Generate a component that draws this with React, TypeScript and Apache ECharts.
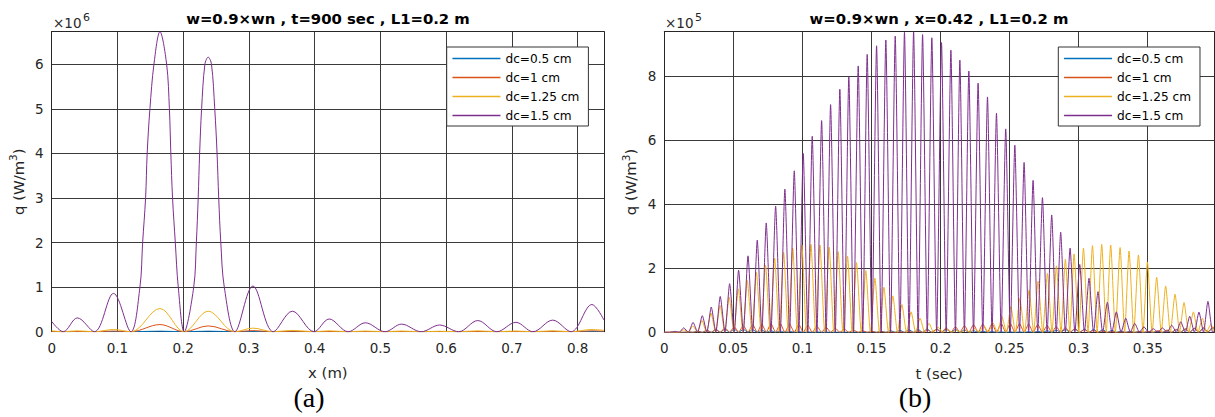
import React, { useEffect, useRef } from "react";
import * as echarts from "echarts";

// ---------------- Panel (a): q along x at t = 900 s (values in 1e6 W/m^3)
const aTroughX = [0.0176, 0.065, 0.1205, 0.2015, 0.2786, 0.337, 0.399, 0.451, 0.507, 0.562, 0.619, 0.677, 0.732, 0.79];
const aPeakX = [0.039, 0.094, 0.1646, 0.238, 0.306, 0.366, 0.422, 0.477, 0.532, 0.59, 0.648, 0.706, 0.762, 0.8216];
const aEndX = [0, 0.84];
const aPurplePeaks = [0.31, 0.86, 6.73, 6.16, 1.025, 0.46, 0.285, 0.2, 0.17, 0.15, 0.25, 0.21, 0.26, 0.61];
const aPurpleEnds = [0.23, 0.26];
const aPurpleShoulders = [
  [0.1342, 1], [0.1383, 2], [0.1428, 3], [0.1452, 4], [0.1494, 5], [0.1555, 6],
  [0.1748, 6], [0.179, 5], [0.1812, 4], [0.1838, 3], [0.188, 2], [0.1925, 1],
  [0.216, 1], [0.22, 2], [0.2228, 3], [0.225, 4], [0.228, 5], [0.233, 6],
  [0.243, 6], [0.248, 5], [0.2515, 4], [0.254, 3], [0.2572, 2], [0.2625, 1],
];
const aYellowPeaks = [0.02, 0.05, 0.52, 0.46, 0.08, 0.03, 0.02, 0.015, 0.015, 0.01, 0.02, 0.015, 0.02, 0.05];
const aYellowEnds = [0.02, 0.03];
const aOrangePeaks = [0.005, 0.015, 0.16, 0.13, 0.025, 0.01, 0.005, 0.005, 0.005, 0.005, 0.005, 0.005, 0.008, 0.02];
const aOrangeEnds = [0.005, 0.01];
const aBluePeaks = [0.002, 0.004, 0.012, 0.012, 0.004, 0.002, 0.002, 0.002, 0.002, 0.002, 0.002, 0.002, 0.002, 0.004];
const aBlueEnds = [0.002, 0.003];

// ---------------- Panel (b): q in time at x = 0.42 (values in 1e5 W/m^3)
const bEndT = [0, 0.398];
const bPeakT = [0.0075, 0.014, 0.0208, 0.0275, 0.034, 0.0405, 0.0473, 0.0538, 0.0606, 0.0673, 0.0738, 0.0806, 0.0873, 0.0941, 0.1006, 0.1071, 0.1139, 0.1204, 0.1271, 0.1336, 0.1404, 0.1469, 0.1537, 0.1604, 0.1672, 0.1739, 0.1805, 0.187, 0.1937, 0.2007, 0.2075, 0.214, 0.2205, 0.2272, 0.234, 0.2405, 0.2472, 0.2538, 0.2605, 0.267, 0.2738, 0.2805, 0.287, 0.2938, 0.3008, 0.3075, 0.314, 0.3208, 0.3273, 0.3341, 0.3406, 0.3473, 0.3541, 0.3606, 0.3674, 0.3739, 0.3804, 0.3871, 0.3936];
const bTroughT = [0.004, 0.0108, 0.0174, 0.0241, 0.0308, 0.0373, 0.0439, 0.0506, 0.0572, 0.064, 0.0706, 0.0772, 0.084, 0.0907, 0.0974, 0.1039, 0.1105, 0.1172, 0.1238, 0.1304, 0.137, 0.1437, 0.1503, 0.157, 0.1638, 0.1706, 0.1772, 0.1838, 0.1904, 0.1972, 0.2041, 0.2108, 0.2173, 0.2239, 0.2306, 0.2373, 0.2439, 0.2505, 0.2572, 0.2638, 0.2704, 0.2772, 0.2838, 0.2904, 0.2973, 0.3042, 0.3108, 0.3174, 0.3241, 0.3307, 0.3374, 0.344, 0.3507, 0.3574, 0.364, 0.3707, 0.3772, 0.3838, 0.3904, 0.397];
const bPurplePeaks = [0.03, 0.14, 0.31, 0.52, 0.79, 1.12, 1.52, 1.94, 2.39, 2.88, 3.42, 3.95, 4.48, 5.05, 5.59, 6.13, 6.62, 7.12, 7.6, 7.99, 8.33, 8.69, 8.96, 9.14, 9.26, 9.38, 9.4, 9.31, 9.21, 9.06, 8.82, 8.51, 8.17, 7.79, 7.36, 6.85, 6.36, 5.85, 5.31, 4.75, 4.21, 3.67, 3.13, 2.63, 2.12, 1.69, 1.27, 0.94, 0.64, 0.44, 0.28, 0.17, 0.11, 0.14, 0.22, 0.33, 0.5, 0.63, 0.97];
const bPurpleEnds = [0, 0.03];
const bYellowPeakT = [0.0075, 0.0141, 0.0207, 0.0272, 0.0338, 0.0404, 0.047, 0.0536, 0.0601, 0.0667, 0.0733, 0.0799, 0.0864, 0.093, 0.0996, 0.1062, 0.1127, 0.1194, 0.1259, 0.1327, 0.1392, 0.1459, 0.1525, 0.159, 0.1655, 0.172, 0.1787, 0.1852, 0.1917, 0.1983, 0.2049, 0.2115, 0.2181, 0.2247, 0.2313, 0.2379, 0.2444, 0.2509, 0.2574, 0.2641, 0.2706, 0.2774, 0.2839, 0.2904, 0.2967, 0.3035, 0.31, 0.3167, 0.3232, 0.33, 0.3365, 0.3433, 0.3498, 0.3565, 0.363, 0.3698, 0.3763, 0.3831, 0.3896, 0.3956];
const bYellowTroughT = [0.0042, 0.0108, 0.0174, 0.024, 0.0305, 0.0371, 0.0437, 0.0503, 0.0569, 0.0634, 0.07, 0.0766, 0.0832, 0.0897, 0.0963, 0.1029, 0.1095, 0.1161, 0.1227, 0.1293, 0.136, 0.1426, 0.1492, 0.1558, 0.1623, 0.1688, 0.1754, 0.182, 0.1885, 0.195, 0.2016, 0.2082, 0.2148, 0.2214, 0.228, 0.2346, 0.2412, 0.2477, 0.2542, 0.2608, 0.2674, 0.274, 0.2807, 0.2872, 0.2936, 0.3001, 0.3068, 0.3134, 0.32, 0.3266, 0.3333, 0.3399, 0.3466, 0.3532, 0.3598, 0.3664, 0.3731, 0.3797, 0.3864, 0.3926];
const bYellowPeaks = [0.01, 0.08, 0.2, 0.37, 0.6, 0.84, 1.1, 1.36, 1.62, 1.87, 2.1, 2.32, 2.5, 2.63, 2.73, 2.75, 2.73, 2.66, 2.52, 2.38, 2.18, 1.93, 1.69, 1.41, 1.14, 0.87, 0.64, 0.44, 0.28, 0.16, 0.09, 0.06, 0.07, 0.12, 0.2, 0.3, 0.49, 0.8, 1.06, 1.32, 1.6, 1.84, 2.08, 2.28, 2.45, 2.63, 2.71, 2.75, 2.73, 2.65, 2.54, 2.42, 2.2, 1.72, 1.45, 1.19, 0.93, 0.64, 0.44, 0.25];
const bYellowEnds = [0, 0.03];
const bOrangeHumps = [0, 0, 0.01, 0.03, 0.06, 0.1, 0.14, 0.18, 0.21, 0.24, 0.26, 0.27, 0.27, 0.26, 0.25, 0.22, 0.19, 0.16, 0.13, 0.1, 0.07, 0.05, 0.03, 0.02, 0.01, 0.01, 0.02, 0.04, 0.07, 0.1, 0.14, 0.18, 0.21, 0.24, 0.26, 0.27, 0.28, 0.28, 0.27, 0.26, 0.24, 0.21, 0.18, 0.15, 0.12, 0.09, 0.06, 0.04, 0.02, 0.01, 0.01, 0.02, 0.03, 0.05, 0.07, 0.09, 0.11, 0.13, 0.15, 0.16];
const bOrangeEnds = [0, 0.15];
const bBlueHumps = [0, 0, 0.01, 0.03, 0.06, 0.08, 0.1, 0.1, 0.09, 0.08, 0.07, 0.05, 0.04, 0.03, 0.02, 0.01, 0.01, 0.005, 0.005, 0.005, 0.01, 0.01, 0.02, 0.03, 0.05, 0.06, 0.08, 0.09, 0.1, 0.1, 0.1, 0.09, 0.07, 0.05, 0.03, 0.02, 0.01, 0.01, 0.01, 0.02, 0.03, 0.05, 0.07, 0.09, 0.1, 0.1, 0.09, 0.08, 0.06, 0.04, 0.03, 0.02, 0.02, 0.03, 0.05, 0.08, 0.1, 0.12, 0.13, 0.13];
const bBlueEnds = [0, 0.12];

const seriesNames = ["dc=0.5 cm", "dc=1 cm", "dc=1.25 cm", "dc=1.5 cm"];
const seriesColors = ["#0072BD", "#D95319", "#EDB120", "#7E2F8E"];

const FONT = "'DejaVu Sans', sans-serif";
const TXT = "#262626";
const GRIDC = "#3a3a3a";

const pairs = (ts: number[], vs: number[]) => ts.map((t, i) => [t, vs[i]]);
const zeroAt = (ts: number[]) => ts.map((t) => [t, 0]);
const merge = (...lists: number[][][]) => lists.flat().sort((p, q) => p[0] - q[0]);
const fmt = (v: number) => String(Number(v.toFixed(4)));

function axisX(gridIndex: number, max: number, interval: number, name: string) {
  return {
    type: "value", gridIndex, min: 0, max, interval, position: "bottom",
    name, nameLocation: "middle", nameGap: 34,
    nameTextStyle: { fontFamily: FONT, fontSize: 14.85, color: TXT },
    axisLine: { show: true, onZero: false, lineStyle: { color: TXT, width: 1 } },
    axisTick: { show: false },
    axisLabel: { fontFamily: FONT, fontSize: 13.5, color: TXT, margin: 9, showMaxLabel: false, formatter: fmt },
    splitLine: { show: true, lineStyle: { color: GRIDC, width: 1 } },
  };
}
function axisXTop(gridIndex: number, max: number) {
  return {
    type: "value", gridIndex, min: 0, max, position: "top",
    axisLine: { show: true, onZero: false, lineStyle: { color: TXT, width: 1 } },
    axisTick: { show: false }, axisLabel: { show: false }, splitLine: { show: false },
  };
}
function axisY(gridIndex: number, max: number, interval: number) {
  return {
    type: "value", gridIndex, min: 0, max, interval, position: "left",
    name: "{a|q (W/m}{s|3}{a|)}", nameLocation: "middle", nameGap: 22, nameRotate: 90,
    nameTextStyle: {
      rich: {
        a: { fontFamily: FONT, fontSize: 14.85, color: TXT, lineHeight: 22 },
        s: { fontFamily: FONT, fontSize: 10.5, color: TXT, lineHeight: 12, verticalAlign: "top" },
      },
    },
    axisLine: { show: true, onZero: false, lineStyle: { color: TXT, width: 1 } },
    axisTick: { show: false },
    axisLabel: { fontFamily: FONT, fontSize: 13.5, color: TXT, margin: 8, showMaxLabel: false, formatter: fmt },
    splitLine: { show: true, lineStyle: { color: GRIDC, width: 1 } },
  };
}
function axisYRight(gridIndex: number, max: number) {
  return {
    type: "value", gridIndex, min: 0, max, position: "right",
    axisLine: { show: true, onZero: false, lineStyle: { color: TXT, width: 1 } },
    axisTick: { show: false }, axisLabel: { show: false }, splitLine: { show: false },
  };
}
function legendAt(left: number) {
  return {
    orient: "vertical", left, top: 47, itemWidth: 48, itemHeight: 12, itemGap: 7,
    padding: [5.5, 9, 4.5, 5], borderColor: "#333", borderWidth: 1, backgroundColor: "#fff",
    selectedMode: false, textStyle: { fontFamily: FONT, fontSize: 12.15, color: "#000" },
    lineStyle: { width: 1.5 }, data: seriesNames,
  };
}

export default function App() {
  const ref = useRef<HTMLDivElement>(null);
  useEffect(() => {
    if (!ref.current) return;
    const chart = echarts.init(ref.current, undefined, { renderer: "svg" });

    const aData = [
      merge(pairs(aEndX, aBlueEnds), zeroAt(aTroughX), pairs(aPeakX, aBluePeaks)),
      merge(pairs(aEndX, aOrangeEnds), zeroAt(aTroughX), pairs(aPeakX, aOrangePeaks)),
      merge(pairs(aEndX, aYellowEnds), zeroAt(aTroughX), pairs(aPeakX, aYellowPeaks)),
      merge(pairs(aEndX, aPurpleEnds), zeroAt(aTroughX), pairs(aPeakX, aPurplePeaks), aPurpleShoulders),
    ];
    const bData = [
      merge(pairs(bEndT, bBlueEnds), pairs(bTroughT, bBlueHumps), zeroAt(bPeakT)),
      merge(pairs(bEndT, bOrangeEnds), pairs(bTroughT, bOrangeHumps), zeroAt(bPeakT)),
      merge(pairs(bEndT, bYellowEnds), zeroAt(bYellowTroughT), pairs(bYellowPeakT, bYellowPeaks)),
      merge(pairs(bEndT, bPurpleEnds), zeroAt(bTroughT), pairs(bPeakT, bPurplePeaks)),
    ];

    const series: any[] = [];
    aData.forEach((d, i) =>
      series.push({
        type: "line", name: seriesNames[i], data: d, xAxisIndex: 0, yAxisIndex: 0,
        symbol: "line", showSymbol: false, smooth: 0.35, lineStyle: { width: 1, color: seriesColors[i] },
        itemStyle: { color: seriesColors[i] },
      })
    );
    bData.forEach((d, i) =>
      series.push({
        type: "line", name: seriesNames[i], data: d, xAxisIndex: 2, yAxisIndex: 2,
        symbol: "line", showSymbol: false, smooth: 0.2, lineStyle: { width: 1, color: seriesColors[i] },
        itemStyle: { color: seriesColors[i] },
      })
    );

    const txt = (x: number, y: number, text: string, size: number, extra: any = {}) => ({
      type: "text", x, y, silent: true,
      style: { text, fontFamily: FONT, fontSize: size, fill: TXT, textAlign: "left", textVerticalAlign: "middle", ...extra },
    });

    chart.setOption({
      animation: false,
      backgroundColor: "#fff",
      grid: [
        { left: 51.7, top: 31.7, width: 552.3, height: 300 },
        { left: 664.3, top: 31.7, width: 549.7, height: 300.6 },
      ],
      xAxis: [axisX(0, 0.84, 0.1, "x (m)"), axisXTop(0, 0.84), axisX(1, 0.398, 0.05, "t (sec)"), axisXTop(1, 0.398)],
      yAxis: [axisY(0, 6.73, 1), axisYRight(0, 6.73), axisY(1, 9.4, 2), axisYRight(1, 9.4)],
      legend: [legendAt(446.7), legendAt(1058.3)],
      series,
      graphic: [
        txt(328, 19, "w=0.9×wn , t=900 sec , L1=0.2 m", 14.85, { fontWeight: "bold", fill: "#000", textAlign: "center" }),
        txt(939, 19, "w=0.9×wn , x=0.42 , L1=0.2 m", 14.85, { fontWeight: "bold", fill: "#000", textAlign: "center" }),
        txt(53, 23, "×10", 13.5),
        txt(83, 17.5, "6", 11),
        txt(665, 23, "×10", 13.5),
        txt(695, 17.5, "5", 11),
        txt(309, 397, "(a)", 28, { fontFamily: "'Liberation Serif', serif", fill: "#000", textAlign: "center" }),
        txt(915, 397, "(b)", 28, { fontFamily: "'Liberation Serif', serif", fill: "#000", textAlign: "center" }),
      ],
    });
    return () => chart.dispose();
  }, []);
  return <div ref={ref} style={{ position: "absolute", left: 0, top: 0, width: 1215, height: 417 }} />;
}
